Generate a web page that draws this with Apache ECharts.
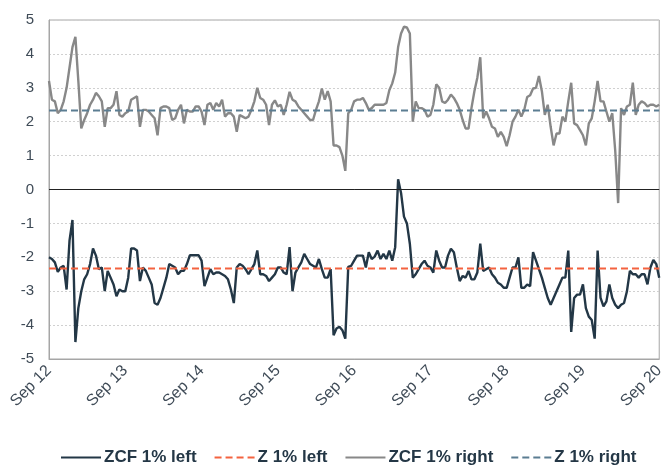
<!DOCTYPE html>
<html>
<head>
<meta charset="utf-8">
<script src="https://cdn.jsdelivr.net/npm/echarts@6/dist/echarts.min.js"></script>
<style>html,body{margin:0;padding:0;background:#fff}#c{width:667px;height:465px}</style>
</head>
<body>
<div id="c"></div>
<script>
// x ticks: years since Sep 2012
const tickLabels = ['Sep 12','Sep 13','Sep 14','Sep 15','Sep 16','Sep 17','Sep 18','Sep 19','Sep 20'];
const stepsPerYear = 26; // bi-weekly samples

const zcfLeft = [
 -2.0,-2.05,-2.15,-2.43,-2.3,-2.25,-2.95,-1.5,-0.9,-4.5,
 -3.5,-3.0,-2.65,-2.5,-2.2,-1.74,-1.95,-2.35,-2.3,-3.0,
 -2.4,-2.6,-2.8,-3.15,-2.95,-3.0,-3.0,-2.6,-1.74,-1.74,
 -1.8,-2.7,-2.3,-2.4,-2.6,-2.8,-3.35,-3.4,-3.2,-2.9,
 -2.6,-2.2,-2.25,-2.3,-2.5,-2.4,-2.4,-2.2,-1.94,-1.94,
 -1.94,-1.94,-2.1,-2.85,-2.6,-2.35,-2.5,-2.45,-2.45,-2.5,
 -2.55,-2.65,-2.95,-3.35,-2.3,-2.2,-2.25,-2.35,-2.5,-2.35,
 -2.2,-1.8,-2.5,-2.5,-2.55,-2.7,-2.6,-2.5,-2.3,-2.3,
 -2.45,-2.5,-1.7,-3.0,-2.45,-2.3,-2.15,-1.9,-2.05,-2.2,
 -2.25,-2.3,-2.05,-2.35,-2.6,-2.6,-2.35,-4.3,-4.1,-4.05,
 -4.15,-4.4,-2.28,-2.25,-2.1,-1.95,-1.95,-1.95,-2.3,-1.85,
 -2.05,-1.98,-1.8,-2.05,-1.9,-2.05,-1.8,-2.1,-1.7,0.3,
 -0.1,-0.8,-1.0,-1.6,-2.6,-2.5,-2.35,-2.2,-2.1,-2.25,
 -2.3,-2.45,-1.8,-2.1,-2.3,-2.3,-1.95,-1.75,-1.85,-2.3,
 -2.7,-2.55,-2.6,-2.4,-2.65,-2.65,-2.45,-1.6,-2.4,-2.35,
 -2.3,-2.5,-2.6,-2.75,-2.8,-2.9,-2.9,-2.6,-2.3,-2.3,
 -2.0,-2.9,-2.9,-2.8,-2.85,-1.85,-2.1,-2.35,-2.6,-2.9,
 -3.2,-3.4,-3.2,-3.0,-2.8,-2.6,-2.6,-1.8,-4.2,-3.2,
 -3.1,-3.1,-2.8,-3.5,-3.75,-3.85,-4.4,-1.8,-3.2,-3.45,
 -3.3,-2.8,-3.2,-3.4,-3.5,-3.4,-3.35,-3.0,-2.4,-2.5,
 -2.5,-2.6,-2.5,-2.5,-2.8,-2.3,-2.08,-2.2,-2.6
];

const zcfRight = [
 3.2,2.65,2.6,2.25,2.35,2.6,3.0,3.6,4.2,4.5,
 3.2,1.8,2.05,2.25,2.5,2.65,2.85,2.75,2.6,1.85,
 2.4,2.4,2.5,2.9,2.2,2.15,2.25,2.3,2.65,2.7,
 2.75,1.85,2.35,2.35,2.3,2.2,2.1,1.6,2.4,2.45,
 2.45,2.4,2.05,2.1,2.35,2.5,1.95,2.35,2.3,2.3,
 2.45,2.45,2.3,1.9,2.5,2.55,2.35,2.55,2.45,2.65,
 2.15,2.25,2.25,2.15,1.7,2.2,2.15,2.1,2.15,2.35,
 2.6,3.0,2.7,2.65,2.5,1.9,2.5,2.63,2.45,2.5,
 2.2,2.5,2.88,2.65,2.6,2.45,2.35,2.25,2.15,2.05,
 2.05,2.35,2.6,2.98,2.65,2.9,2.6,1.3,1.3,1.25,
 1.0,0.55,2.25,2.35,2.6,2.65,2.65,2.7,2.55,2.35,
 2.4,2.5,2.5,2.5,2.5,2.55,2.93,3.13,3.45,4.2,
 4.6,4.8,4.78,4.6,2.0,2.6,2.4,2.4,2.35,2.15,
 2.2,2.5,3.1,3.0,2.6,2.55,2.65,2.8,2.7,2.55,
 2.35,2.05,1.8,1.8,2.4,2.9,3.3,3.9,2.1,2.3,
 2.1,1.85,1.8,1.55,1.7,1.55,1.28,1.6,2.0,2.15,
 2.35,2.15,2.35,2.73,2.78,2.98,3.0,3.35,2.9,2.2,
 2.5,1.85,1.3,1.65,1.65,2.15,2.0,2.6,3.15,1.95,
 1.9,1.75,1.6,1.3,1.95,2.1,2.6,3.2,2.6,2.6,
 2.3,2.0,2.25,1.15,-0.4,2.4,2.2,2.45,2.5,3.15,
 2.2,2.5,2.6,2.55,2.45,2.5,2.5,2.45,2.5
];

const zLeft = -2.33;
const zRight = 2.33;

const toPairs = arr => arr.map((v, i) => [i / stepsPerYear, v]);
const flat = v => [[0, v], [tickLabels.length - 1, v]];

const labelColor = '#3f4b57';
const chart = echarts.init(document.getElementById('c'), null, {renderer: 'canvas'});
chart.setOption({
  animation: false,
  backgroundColor: '#ffffff',
  grid: {left: 49, right: 3, top: 20, bottom: 106, show: true, borderColor: '#a6a6a6', borderWidth: 1},
  xAxis: {
    type: 'value', min: 0, max: tickLabels.length - 1, interval: 1,
    axisLine: {show: true, onZero: false, lineStyle: {color: '#a6a6a6'}},
    axisTick: {show: false},
    splitLine: {show: false},
    axisLabel: {
      rotate: 45, margin: 9, color: labelColor, fontSize: 16, fontFamily: 'Liberation Sans, Arial',
      formatter: v => tickLabels[Math.round(v)]
    }
  },
  yAxis: {
    type: 'value', min: -5, max: 5, interval: 1,
    axisLine: {show: true, lineStyle: {color: '#a6a6a6'}},
    axisTick: {show: false},
    splitLine: {show: true, lineStyle: {color: '#d0d0d0', type: [2, 2], width: 1}},
    axisLabel: {color: labelColor, fontSize: 15, fontFamily: 'Liberation Sans, Arial', margin: 15}
  },
  legend: {
    top: 444, left: 55, itemWidth: 40, itemHeight: 14, itemGap: 17,
    itemStyle: {opacity: 0},
    textStyle: {color: '#243746', fontSize: 17, fontWeight: 'bold', fontFamily: 'Liberation Sans, Arial', padding: [0, 0, 0, -2]},
    data: ['ZCF 1% left', 'Z 1% left', 'ZCF 1% right', 'Z 1% right']
  },
  series: [
    {
      name: 'ZCF 1% left', type: 'line', data: toPairs(zcfLeft), showSymbol: false, symbol: 'none',
      lineStyle: {color: '#233746', width: 2.4}, itemStyle: {color: '#233746'},
      markLine: {silent: true, symbol: 'none', label: {show: false},
        lineStyle: {color: '#222222', width: 1, type: 'solid'}, data: [{yAxis: 0}]}
    },
    {
      name: 'Z 1% left', type: 'line', data: flat(zLeft), showSymbol: false, symbol: 'none',
      lineStyle: {color: '#f4623f', width: 2, type: [7, 4]}, itemStyle: {color: '#f4623f'}
    },
    {
      name: 'ZCF 1% right', type: 'line', data: toPairs(zcfRight), showSymbol: false, symbol: 'none',
      lineStyle: {color: '#888888', width: 2.4}, itemStyle: {color: '#888888'}
    },
    {
      name: 'Z 1% right', type: 'line', data: flat(zRight), showSymbol: false, symbol: 'none',
      lineStyle: {color: '#5b7d92', width: 2, type: [7, 4]}, itemStyle: {color: '#5b7d92'}
    }
  ]
});
</script>
</body>
</html>
